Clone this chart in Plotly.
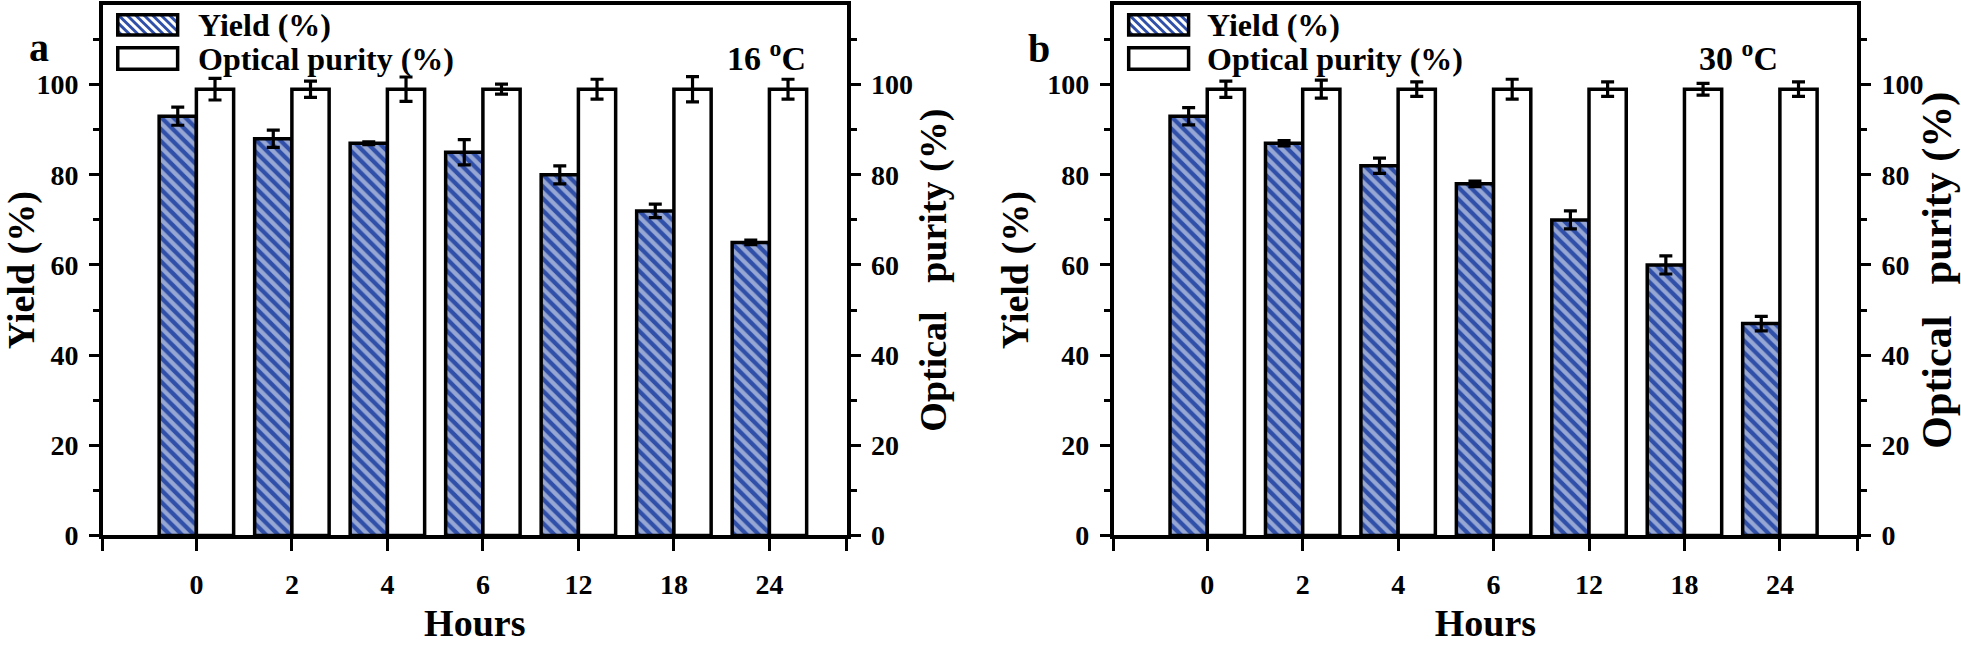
import plotly.graph_objects as go

# ---------------- data ----------------
hours = ["0", "2", "4", "6", "12", "18", "24"]

yield_16 = [93, 88, 87, 85, 80, 72, 65]
yield_16_err = [2.0, 1.9, 0.3, 2.8, 2.0, 1.5, 0.5]
purity_16 = [99, 99, 99, 99, 99, 99, 99]
purity_16_err = [2.4, 1.8, 2.7, 1.1, 2.2, 2.8, 2.2]

yield_30 = [93, 87, 82, 78, 70, 60, 47]
yield_30_err = [1.9, 0.6, 1.7, 0.6, 2.0, 2.0, 1.6]
purity_30 = [99, 99, 99, 99, 99, 99, 99]
purity_30_err = [1.8, 2.0, 1.6, 2.2, 1.6, 1.3, 1.6]

y_ticks = [0, 20, 40, 60, 80, 100]
y_minor = [10, 30, 50, 70, 90, 110]

series_names = ["Yield (%)", "Optical purity (%)"]

# ---------------- style ----------------
FONT = "Times New Roman, Liberation Serif, serif"
BLUE = "#2F4FA8"
BAR_W = 0.39
X_RANGE = [-0.98, 6.81]
Y_RANGE = [0, 117.7]
W, H = 1961, 647
LW = 3.5

x_idx = list(range(len(hours)))

fig = go.Figure()


def add_panel(xa, ya, ya2, yv, ye, pv, pe):
    fig.add_trace(go.Bar(
        x=x_idx, y=yv, width=BAR_W, offset=-BAR_W, xaxis=xa, yaxis=ya,
        name=series_names[0], showlegend=False,
        marker=dict(color=BLUE,
                    pattern=dict(shape="\\", fgcolor="white", bgcolor=BLUE,
                                 size=8.5, solidity=0.5),
                    line=dict(color="black", width=LW)),
        error_y=dict(type="data", array=ye, color="black", thickness=3.2, width=6.5),
    ))
    fig.add_trace(go.Bar(
        x=x_idx, y=pv, width=BAR_W, offset=0, xaxis=xa, yaxis=ya2,
        name=series_names[1], showlegend=False,
        marker=dict(color="white", line=dict(color="black", width=LW)),
        error_y=dict(type="data", array=pe, color="black", thickness=3.2, width=6.5),
    ))


add_panel("x", "y", "y2", yield_16, yield_16_err, purity_16, purity_16_err)
add_panel("x2", "y3", "y4", yield_30, yield_30_err, purity_30, purity_30_err)

tickfont = dict(family=FONT, size=28, color="black", weight="bold")


def xaxis(domain, anchor):
    return dict(domain=domain, anchor=anchor, range=X_RANGE,
                tickmode="array", tickvals=x_idx, ticktext=hours,
                ticks="outside", ticklen=12, tickwidth=3, tickcolor="black",
                minor=dict(tickvals=[X_RANGE[0] + 0.002, X_RANGE[1] - 0.002],
                           ticks="outside", ticklen=12, tickwidth=3, tickcolor="black"),
                showline=True, linewidth=LW, linecolor="black", mirror=True,
                showgrid=False, zeroline=False, tickfont=tickfont,
                ticklabelstandoff=9,
                title=dict(text="Hours", standoff=12,
                           font=dict(family=FONT, size=38, color="black", weight="bold")))


def yaxis(domain, anchor, side, title, tsize, overlay=None):
    d = dict(domain=domain, anchor=anchor, side=side, range=Y_RANGE,
             tickmode="array", tickvals=y_ticks,
             ticks="outside", ticklen=10, tickwidth=3, tickcolor="black",
             minor=dict(tickvals=y_minor, ticks="outside", ticklen=6,
                        tickwidth=3, tickcolor="black"),
             showline=True, linewidth=LW, linecolor="black",
             showgrid=False, zeroline=False, tickfont=tickfont,
             ticklabelstandoff=5,
             title=dict(text=title, standoff=8,
                        font=dict(family=FONT, size=tsize, color="black", weight="bold")))
    if overlay:
        d["overlaying"] = overlay
    return d


ydom = [(H - 549) / H, (H - 5) / H]
xa_dom = [103 / W, 848.5 / W]
xb_dom = [1116 / W, 1861 / W]
gap = "\u00a0\u00a0\u00a0"


def px(x):
    return x / W


def py(y):
    return 1 - y / H


# ----- custom legend (large swatches, like the original) -----
shapes = []
annotations = []


def hatch_swatch(x0, y0, x1, y1, hatched):
    if hatched:
        shapes.append(dict(type="rect", xref="paper", yref="paper",
                           x0=px(x0), y0=py(y0), x1=px(x1), y1=py(y1),
                           line=dict(width=0), fillcolor=BLUE))
        period = 8.5
        c = x0 - y1
        while c < x1 - y0:
            ya = max(y0, x0 - c)
            yb = min(y1, x1 - c)
            if yb > ya:
                shapes.append(dict(type="line", xref="paper", yref="paper",
                                   x0=px(ya + c), y0=py(ya), x1=px(yb + c), y1=py(yb),
                                   line=dict(color="white", width=3.0)))
            c += period
    shapes.append(dict(type="rect", xref="paper", yref="paper",
                       x0=px(x0), y0=py(y0), x1=px(x1), y1=py(y1),
                       line=dict(color="black", width=LW),
                       fillcolor="rgba(0,0,0,0)"))


def legend_block(xs, xt):
    rows = [(15, 36, 26), (49, 71, 60)]
    for i, (ya, yb, yc) in enumerate(rows):
        hatch_swatch(xs, ya, xs + 60, yb, hatched=(i == 0))
        annotations.append(dict(text=series_names[i], x=px(xt), y=py(yc),
                                xref="paper", yref="paper", xanchor="left", yanchor="middle",
                                showarrow=False,
                                font=dict(family=FONT, size=32, color="black", weight="bold")))


legend_block(118, 196)
legend_block(1131, 1207)

big = dict(family=FONT, size=40, color="black", weight="bold")
temp = dict(family=FONT, size=34, color="black", weight="bold")
annotations += [
    dict(text="a", x=px(27), y=py(24), xref="paper", yref="paper", showarrow=False, font=big),
    dict(text="b", x=px(1041), y=py(25), xref="paper", yref="paper", showarrow=False, font=big),
    dict(text="16 <sup>o</sup>C", x=px(768), y=py(34), xref="paper", yref="paper",
         showarrow=False, font=temp),
    dict(text="30 <sup>o</sup>C", x=px(1784), y=py(34), xref="paper", yref="paper",
         showarrow=False, font=temp),
]

fig.update_layout(
    width=W, height=H, margin=dict(l=0, r=0, t=0, b=0),
    paper_bgcolor="white", plot_bgcolor="white",
    font=dict(family=FONT, color="black", weight="bold"),
    barmode="overlay",
    showlegend=False,
    xaxis=xaxis(xa_dom, "y"),
    yaxis=yaxis(ydom, "x", "left", "Yield (%)", 38),
    yaxis2=yaxis(ydom, "x", "right", "Optical" + gap + "purity (%)", 38, overlay="y"),
    xaxis2=xaxis(xb_dom, "y3"),
    yaxis3=yaxis(ydom, "x2", "left", "Yield (%)", 38),
    yaxis4=yaxis(ydom, "x2", "right", "Optical" + gap + "purity (%)", 42, overlay="y3"),
    shapes=shapes,
    annotations=annotations,
)

fig.write_html("out.html", config={"displayModeBar": False},
               post_script="document.body.style.margin='0';")
